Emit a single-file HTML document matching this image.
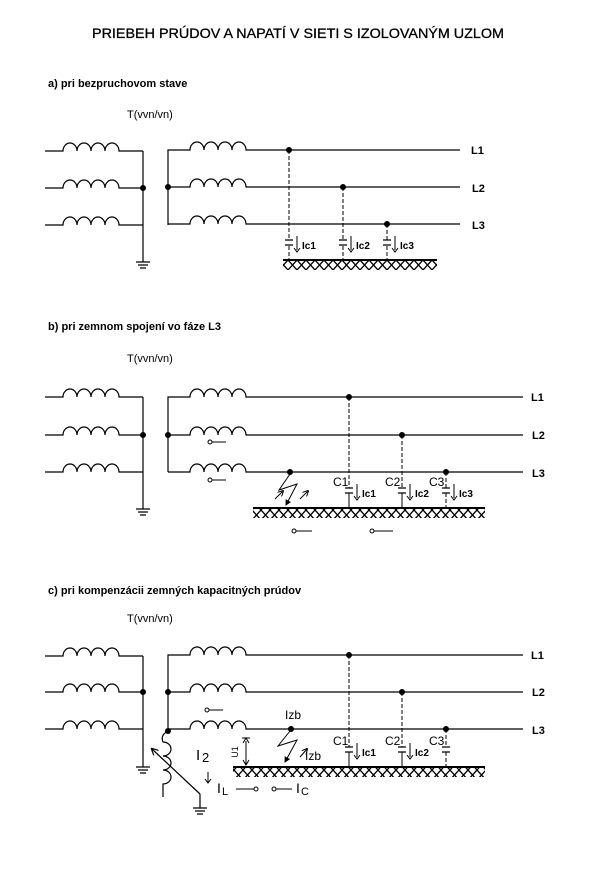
<!DOCTYPE html>
<html><head><meta charset="utf-8"><style>
html,body{margin:0;padding:0;background:#fff;}
svg{display:block;}
text{font-family:"Liberation Sans",sans-serif;fill:#000;}
.b{font-weight:bold;}
</style></head><body>
<svg width="605" height="875" viewBox="0 0 605 875" xmlns="http://www.w3.org/2000/svg">
<defs>
<pattern id="h" width="9" height="10" patternUnits="userSpaceOnUse">
<path d="M0,0 L9,10 M9,0 L0,10" stroke="#000" stroke-width="1.3" fill="none"/>
</pattern>
<marker id="ah" markerWidth="6" markerHeight="6" refX="5" refY="3" orient="auto"><path d="M0,0 L6,3 L0,6" fill="none" stroke="#000" stroke-width="1"/></marker>
<marker id="af" markerWidth="6" markerHeight="6" refX="5" refY="3" orient="auto"><path d="M0,0 L6,3 L0,6z" fill="#000"/></marker>
</defs>
<text x="298" y="38" text-anchor="middle" font-size="14" textLength="412" lengthAdjust="spacingAndGlyphs" stroke="#000" stroke-width="0.3">PRIEBEH PRÚDOV A NAPATÍ V SIETI S IZOLOVANÝM UZLOM</text>

<g stroke="#000" stroke-width="1.2" fill="none">
<!-- ===== Section a ===== -->
<path d="M45,151 H63 a7,8 0 0 1 14,0 a7,8 0 0 1 14,0 a7,8 0 0 1 14,0 a7,8 0 0 1 14,0 H143"/>
<path d="M45,188 H63 a7,8 0 0 1 14,0 a7,8 0 0 1 14,0 a7,8 0 0 1 14,0 a7,8 0 0 1 14,0 H143"/>
<path d="M45,225 H63 a7,8 0 0 1 14,0 a7,8 0 0 1 14,0 a7,8 0 0 1 14,0 a7,8 0 0 1 14,0 H143"/>
<path d="M143,151 V262"/>
<path d="M136,262 H150 M138,265 H148 M140,268 H146"/>
<path d="M168,225 V150 H190 a7,8 0 0 1 14,0 a7,8 0 0 1 14,0 a7,8 0 0 1 14,0 a7,8 0 0 1 14,0 H460"/>
<path d="M168,187 H190 a7,8 0 0 1 14,0 a7,8 0 0 1 14,0 a7,8 0 0 1 14,0 a7,8 0 0 1 14,0 H460"/>
<path d="M168,224 H190 a7,8 0 0 1 14,0 a7,8 0 0 1 14,0 a7,8 0 0 1 14,0 a7,8 0 0 1 14,0 H460"/>
</g>
<g stroke="#000" stroke-width="1" fill="none">
<path d="M289,150 V240 M289,246 V259" stroke-dasharray="4,2"/>
<path d="M343,187 V240 M343,246 V259" stroke-dasharray="4,2"/>
<path d="M387,224 V240 M387,246 V259" stroke-dasharray="4,2"/>
<path d="M285,240 H293 M285,245 H293 M339,240 H347 M339,245 H347 M383,240 H391 M383,245 H391" stroke-width="1.3"/>
<path d="M297,236 V250 M351,236 V250 M395,236 V250"/>
<path d="M294,248 L297,252 L300,248 M348,248 L351,252 L354,248 M392,248 L395,252 L398,248"/>
</g>
<rect x="283" y="260" width="154" height="10" fill="url(#h)"/>
<path d="M283,260 H437" stroke="#000" stroke-width="2"/>
<g fill="#000"><circle cx="143" cy="188" r="3"/><circle cx="168" cy="187" r="3"/><circle cx="289" cy="150" r="3"/><circle cx="343" cy="187" r="3"/><circle cx="387" cy="224" r="3"/></g>
<text x="48" y="87" font-size="11" class="b">a) pri bezpruchovom stave</text>
<text x="127" y="118" font-size="11">T(vvn/vn)</text>
<text x="302" y="249" font-size="10" class="b">Ic1</text>
<text x="356" y="249" font-size="10" class="b">Ic2</text>
<text x="400" y="249" font-size="10" class="b">Ic3</text>
<text x="471" y="154" font-size="11" class="b">L1</text>
<text x="472" y="192" font-size="11" class="b">L2</text>
<text x="472" y="229" font-size="11" class="b">L3</text>

<!-- ===== Section b ===== -->
<g stroke="#000" stroke-width="1.2" fill="none">
<path d="M45,397 H63 a7,8 0 0 1 14,0 a7,8 0 0 1 14,0 a7,8 0 0 1 14,0 a7,8 0 0 1 14,0 H143"/>
<path d="M45,435 H63 a7,8 0 0 1 14,0 a7,8 0 0 1 14,0 a7,8 0 0 1 14,0 a7,8 0 0 1 14,0 H143"/>
<path d="M45,472 H63 a7,8 0 0 1 14,0 a7,8 0 0 1 14,0 a7,8 0 0 1 14,0 a7,8 0 0 1 14,0 H143"/>
<path d="M143,397 V509"/>
<path d="M136,509 H150 M138,512 H148 M140,515 H146"/>
<path d="M168,472 V397 H190 a7,8 0 0 1 14,0 a7,8 0 0 1 14,0 a7,8 0 0 1 14,0 a7,8 0 0 1 14,0 H523"/>
<path d="M168,435 H190 a7,8 0 0 1 14,0 a7,8 0 0 1 14,0 a7,8 0 0 1 14,0 a7,8 0 0 1 14,0 H523"/>
<path d="M168,472 H190 a7,8 0 0 1 14,0 a7,8 0 0 1 14,0 a7,8 0 0 1 14,0 a7,8 0 0 1 14,0 H523"/>
</g>
<g stroke="#000" stroke-width="1" fill="none">
<path d="M349,397 V488 M402,435 V488 M446,472 V488" stroke-dasharray="4,2"/>
<path d="M349,493 V507 M402,493 V507"/>
<path d="M446,493 V507" stroke-dasharray="4,2"/>
<path d="M345,488 H353 M345,493 H353 M398,488 H406 M398,493 H406 M442,488 H450 M442,493 H450" stroke-width="1.3"/>
<path d="M357,484 V498 M410,484 V498 M454,484 V498"/>
<path d="M354,496 L357,500 L360,496 M407,496 L410,500 L413,496 M451,496 L454,500 L457,496"/>
<path d="M290,474 L279,490 L297,484 L286,505" marker-end="url(#af)"/>
<path d="M275,499 L283,491" marker-end="url(#ah)"/>
<path d="M300,499 L308,491" marker-end="url(#ah)"/>
<path d="M212,442 H226 M212,480 H226"/>
<circle cx="210" cy="442" r="2"/><circle cx="210" cy="480" r="2"/>
<path d="M296,531 H312 M374,531 H393"/>
<circle cx="294" cy="531" r="2"/><circle cx="372" cy="531" r="2"/>
</g>
<rect x="253" y="508" width="232" height="10" fill="url(#h)"/>
<path d="M253,508 H485" stroke="#000" stroke-width="2"/>
<g fill="#000"><circle cx="143" cy="435" r="3"/><circle cx="168" cy="435" r="3"/><circle cx="349" cy="397" r="3"/><circle cx="402" cy="435" r="3"/><circle cx="446" cy="472" r="3"/><circle cx="290" cy="472" r="3"/></g>
<text x="48" y="330" font-size="11" class="b">b) pri zemnom spojení vo fáze L3</text>
<text x="127" y="362" font-size="11">T(vvn/vn)</text>
<text x="333" y="486" font-size="12">C1</text>
<text x="385" y="486" font-size="12">C2</text>
<text x="429" y="486" font-size="12">C3</text>
<text x="362" y="497" font-size="10" class="b">Ic1</text>
<text x="415" y="497" font-size="10" class="b">Ic2</text>
<text x="459" y="497" font-size="10" class="b">Ic3</text>
<text x="531" y="401" font-size="11" class="b">L1</text>
<text x="532" y="439" font-size="11" class="b">L2</text>
<text x="532" y="477" font-size="11" class="b">L3</text>

<!-- ===== Section c ===== -->
<g stroke="#000" stroke-width="1.2" fill="none">
<path d="M45,656 H63 a7,8 0 0 1 14,0 a7,8 0 0 1 14,0 a7,8 0 0 1 14,0 a7,8 0 0 1 14,0 H143"/>
<path d="M45,692 H63 a7,8 0 0 1 14,0 a7,8 0 0 1 14,0 a7,8 0 0 1 14,0 a7,8 0 0 1 14,0 H143"/>
<path d="M45,729 H63 a7,8 0 0 1 14,0 a7,8 0 0 1 14,0 a7,8 0 0 1 14,0 a7,8 0 0 1 14,0 H143"/>
<path d="M143,656 V767"/>
<path d="M136,767 H150 M138,770 H148 M140,773 H146"/>
<path d="M168,731 V655 H190 a7,8 0 0 1 14,0 a7,8 0 0 1 14,0 a7,8 0 0 1 14,0 a7,8 0 0 1 14,0 H523"/>
<path d="M168,692 H190 a7,8 0 0 1 14,0 a7,8 0 0 1 14,0 a7,8 0 0 1 14,0 a7,8 0 0 1 14,0 H523"/>
<path d="M168,729 H190 a7,8 0 0 1 14,0 a7,8 0 0 1 14,0 a7,8 0 0 1 14,0 a7,8 0 0 1 14,0 H523"/>
<path d="M168,731 Q160,735 163,742 a8,7 0 0 1 0,14 a8,7 0 0 1 0,14 a8,7 0 0 1 0,14 V797"/>
<path d="M200,794 L152,749" marker-end="url(#ah)"/>
<path d="M200,794 V808 M193,808 H207 M195,811 H205 M197,814 H203"/>
</g>
<g stroke="#000" stroke-width="1" fill="none">
<path d="M349,655 V747 M402,692 V747 M446,729 V747" stroke-dasharray="4,2"/>
<path d="M349,752 V766 M402,752 V766"/>
<path d="M446,752 V766" stroke-dasharray="4,2"/>
<path d="M345,747 H353 M345,752 H353 M398,747 H406 M398,752 H406 M442,747 H450 M442,752 H450" stroke-width="1.3"/>
<path d="M357,743 V757 M410,743 V757"/>
<path d="M354,755 L357,759 L360,755 M407,755 L410,759 L413,755"/>
<path d="M290,731 L278,746 L297,740 L285,762" marker-end="url(#af)"/>
<path d="M300,757 L307,749" marker-end="url(#ah)"/>
<path d="M209,710 H223"/><circle cx="207" cy="710" r="2"/>
<path d="M208,772 V782" /><path d="M205,779 L208,783 L211,779"/>
<path d="M236,789 H254"/><circle cx="256" cy="789" r="2"/>
<path d="M276,789 H292"/><circle cx="274" cy="789" r="2"/>
</g>
<path d="M246,741 V764 M242,738 H250" stroke="#000" stroke-width="1" fill="none"/>
<path d="M243,743 L246,738 L249,743 M243,760 L246,765 L249,760" stroke="#000" fill="none"/>
<rect x="233" y="767" width="252" height="10" fill="url(#h)"/>
<path d="M233,767 H485" stroke="#000" stroke-width="2"/>
<g fill="#000"><circle cx="143" cy="692" r="3"/><circle cx="168" cy="692" r="3"/><circle cx="168" cy="731" r="3"/><circle cx="349" cy="655" r="3"/><circle cx="402" cy="692" r="3"/><circle cx="446" cy="729" r="3"/><circle cx="291" cy="729" r="3"/></g>
<text x="48" y="594" font-size="11" class="b">c) pri kompenzácii zemných kapacitných prúdov</text>
<text x="127" y="622" font-size="11">T(vvn/vn)</text>
<text x="285" y="719" font-size="12">Izb</text>
<text x="305" y="760" font-size="12">Izb</text>
<text x="196" y="760" font-size="15">I</text><text x="202" y="762" font-size="13">2</text>
<text x="217" y="793" font-size="14">I</text><text x="222" y="795" font-size="11">L</text>
<text x="296" y="793" font-size="14">I</text><text x="301" y="795" font-size="11">C</text>
<text transform="translate(238,752) rotate(-90)" font-size="9" text-anchor="middle">U1</text>
<text x="333" y="745" font-size="12">C1</text>
<text x="385" y="745" font-size="12">C2</text>
<text x="429" y="745" font-size="12">C3</text>
<text x="362" y="756" font-size="10" class="b">Ic1</text>
<text x="415" y="756" font-size="10" class="b">Ic2</text>
<text x="531" y="659" font-size="11" class="b">L1</text>
<text x="532" y="696" font-size="11" class="b">L2</text>
<text x="532" y="734" font-size="11" class="b">L3</text>
</svg>
</body></html>
